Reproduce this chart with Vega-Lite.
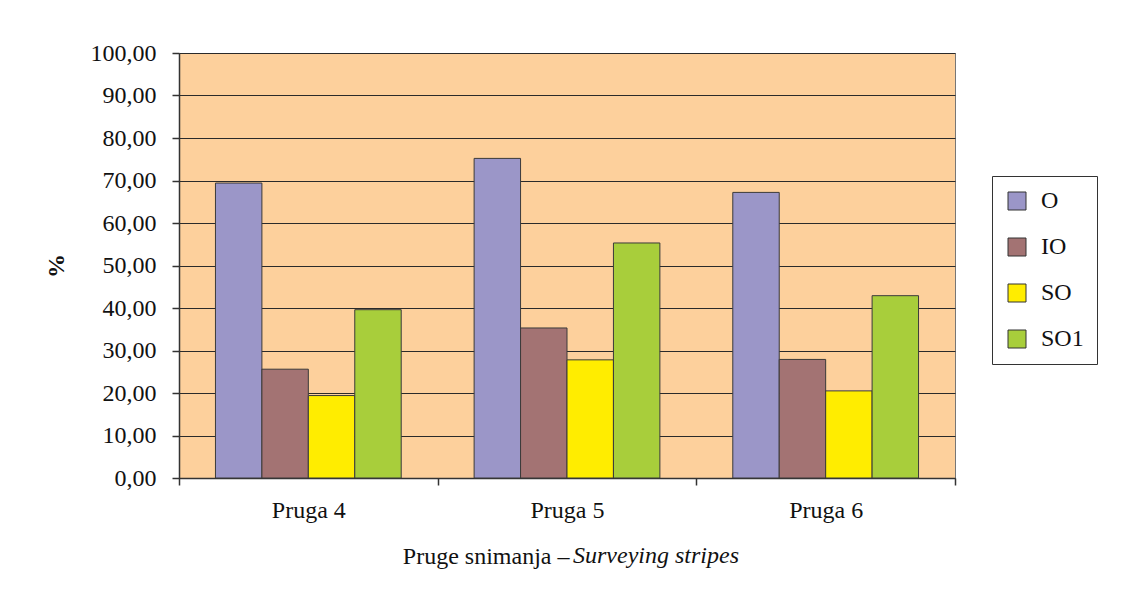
{
  "$schema": "https://vega.github.io/schema/vega-lite/v6.json",
  "width": 776,
  "height": 425,
  "autosize": {"type": "none"},
  "padding": {"left": 179, "top": 53, "right": 173, "bottom": 117},
  "background": "white",
  "data": {
    "values": [
      {"stripe": "Pruga 4", "series": "O", "value": 69.4},
      {"stripe": "Pruga 4", "series": "IO", "value": 25.6},
      {"stripe": "Pruga 4", "series": "SO", "value": 19.4},
      {"stripe": "Pruga 4", "series": "SO1", "value": 39.6},
      {"stripe": "Pruga 5", "series": "O", "value": 75.2},
      {"stripe": "Pruga 5", "series": "IO", "value": 35.3},
      {"stripe": "Pruga 5", "series": "SO", "value": 27.8},
      {"stripe": "Pruga 5", "series": "SO1", "value": 55.3},
      {"stripe": "Pruga 6", "series": "O", "value": 67.2},
      {"stripe": "Pruga 6", "series": "IO", "value": 27.9},
      {"stripe": "Pruga 6", "series": "SO", "value": 20.5},
      {"stripe": "Pruga 6", "series": "SO1", "value": 42.9}
    ]
  },
  "mark": {"type": "bar", "stroke": "#3a3a3a", "strokeWidth": 1},
  "encoding": {
    "x": {
      "field": "stripe",
      "type": "nominal",
      "sort": null,
      "scale": {"paddingInner": 0, "paddingOuter": 0},
      "axis": {
        "title": "Pruge snimanja –",
        "labelAngle": 0,
        "tickBand": "extent",
        "tickSize": 7,
        "labelPadding": 13,
        "titleX": 390,
        "titleAlign": "right",
        "titlePadding": 22
      }
    },
    "xOffset": {
      "field": "series",
      "sort": ["O", "IO", "SO", "SO1"],
      "scale": {"paddingOuter": 0.785, "paddingInner": 0}
    },
    "y": {
      "field": "value",
      "type": "quantitative",
      "scale": {"domain": [0, 100], "nice": false},
      "axis": {
        "title": "%",
        "values": [0, 10, 20, 30, 40, 50, 60, 70, 80, 90, 100],
        "labelExpr": "replace(format(datum.value, '.2f'), '.', ',')",
        "tickSize": 7,
        "labelPadding": 16,
        "titleFontWeight": "bold",
        "titlePadding": 22
      }
    },
    "color": {
      "field": "series",
      "type": "nominal",
      "sort": ["O", "IO", "SO", "SO1"],
      "scale": {
        "domain": ["O", "IO", "SO", "SO1"],
        "range": ["#9B96C8", "#A37373", "#FFED00", "#A8CE3B"]
      },
      "legend": {
        "title": null,
        "orient": "none",
        "legendX": 813,
        "legendY": 123,
        "strokeColor": "#333333",
        "fillColor": "white",
        "padding": 13,
        "symbolType": "square",
        "symbolSize": 324,
        "symbolStrokeColor": "#333333",
        "symbolStrokeWidth": 1,
        "symbolOpacity": 1,
        "labelFontSize": 24,
        "labelFont": "Liberation Serif",
        "labelColor": "#111111",
        "labelOffset": 12,
        "rowPadding": 22
      }
    }
  },
  "title": {
    "text": "Surveying stripes",
    "orient": "bottom",
    "anchor": "start",
    "frame": "group",
    "fontStyle": "italic",
    "fontWeight": "normal",
    "font": "Liberation Serif",
    "fontSize": 24,
    "color": "#111111",
    "dx": 394,
    "offset": -24
  },
  "config": {
    "font": "Liberation Serif",
    "view": {"fill": "#FDD09C", "stroke": "#777777", "strokeWidth": 1},
    "axis": {
      "labelFont": "Liberation Serif",
      "labelFontSize": 24,
      "labelColor": "#111111",
      "titleFont": "Liberation Serif",
      "titleFontSize": 24,
      "titleFontWeight": "normal",
      "titleColor": "#111111",
      "domainColor": "#333333",
      "domainWidth": 1.5,
      "tickColor": "#333333",
      "tickWidth": 1.5,
      "gridColor": "#2a2a2a",
      "gridWidth": 1.2,
      "gridOpacity": 1
    },
    "axisX": {"grid": false},
    "axisY": {"grid": true}
  }
}
